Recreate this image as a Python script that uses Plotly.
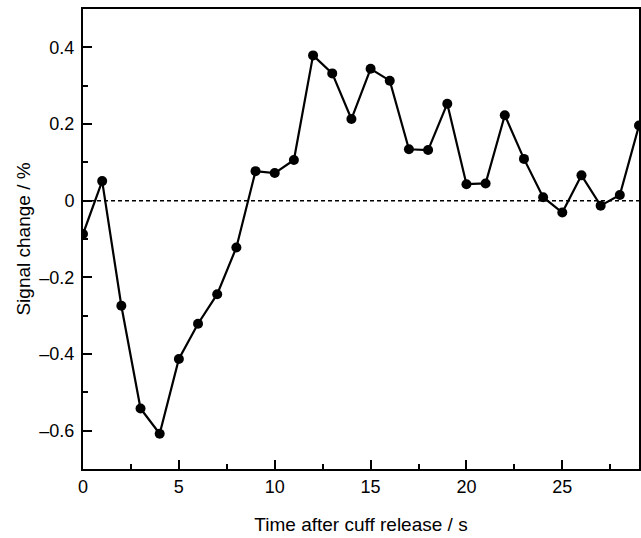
import plotly.graph_objects as go

time_s = list(range(0, 30))
signal_pct = [-0.087, 0.051, -0.274, -0.542, -0.608, -0.413, -0.321, -0.244, -0.122, 0.077,
              0.072, 0.106, 0.379, 0.332, 0.213, 0.344, 0.313, 0.134, 0.132, 0.253,
              0.043, 0.045, 0.223, 0.109, 0.009, -0.031, 0.066, -0.013, 0.015, 0.196]
y_tick_vals = [-0.6, -0.4, -0.2, 0, 0.2, 0.4]
y_tick_text = ["–0.6", "–0.4", "–0.2", "0", "0.2", "0.4"]
x_tick_vals = [0, 5, 10, 15, 20, 25]
x_tick_text = ["0", "5", "10", "15", "20", "25"]

FAMILY = "Liberation Sans, Arial, Helvetica, sans-serif"

fig = go.Figure()
fig.add_hline(y=0, line=dict(color="black", width=1.5, dash="4px,3px"))
fig.add_trace(go.Scatter(x=time_s, y=signal_pct, mode="lines+markers",
                         line=dict(color="black", width=2.2),
                         marker=dict(color="black", size=10),
                         showlegend=False))

fig.update_layout(
    width=641, height=538,
    margin=dict(l=83, r=0, t=9, b=69),
    paper_bgcolor="white", plot_bgcolor="white",
    font=dict(family=FAMILY, size=18, color="black"),
    xaxis=dict(range=[0, 29], showgrid=False, zeroline=False,
               showline=True, linecolor="black", linewidth=2, mirror=True,
               ticks="inside", ticklen=9, tickwidth=1.5, tickcolor="black",
               tickvals=x_tick_vals, ticktext=x_tick_text,
               tickfont=dict(family=FAMILY, size=18, color="black"),
               minor=dict(ticks="inside", ticklen=5, tickwidth=1.5, tickcolor="black",
                          tick0=0, dtick=2.5),
               title=dict(text="Time after cuff release / s", standoff=22,
                          font=dict(family=FAMILY, size=19, color="black"))),
    yaxis=dict(range=[-0.7, 0.5], showgrid=False, zeroline=False,
               showline=True, linecolor="black", linewidth=2, mirror=True,
               ticks="inside", ticklen=9, tickwidth=1.5, tickcolor="black",
               tickvals=y_tick_vals, ticktext=y_tick_text, ticklabelstandoff=3,
               tickfont=dict(family=FAMILY, size=18, color="black"),
               minor=dict(ticks="inside", ticklen=5, tickwidth=1.5, tickcolor="black",
                          tick0=0, dtick=0.1),
               title=dict(text="Signal change / %", standoff=4,
                          font=dict(family=FAMILY, size=19, color="black"))),
)
fig.write_html("out.html")
